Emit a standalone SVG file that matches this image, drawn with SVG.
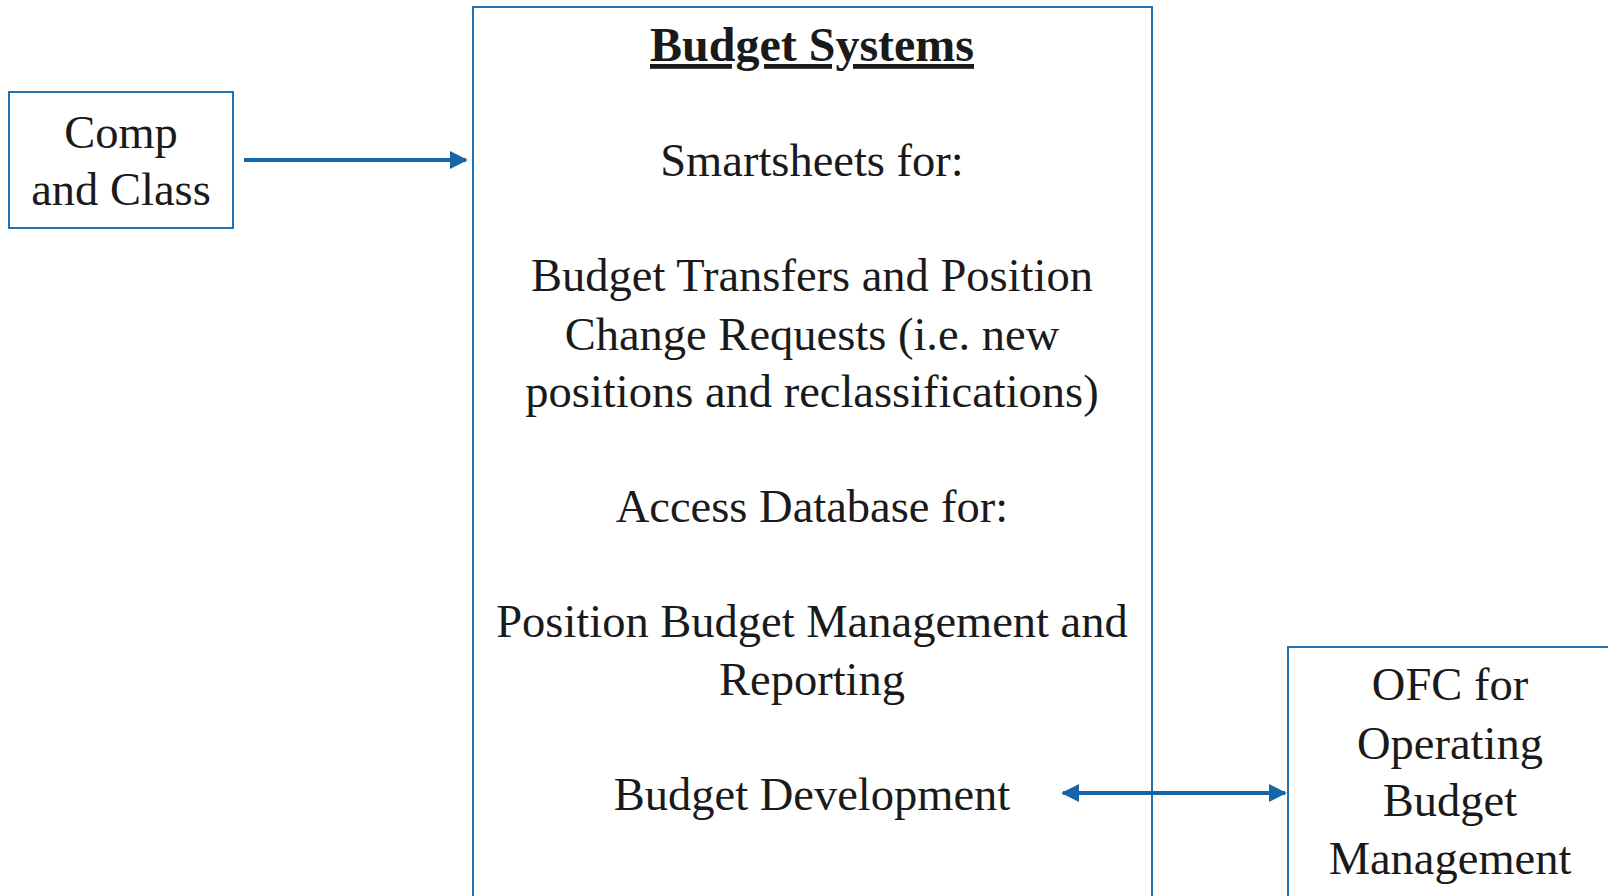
<svg xmlns="http://www.w3.org/2000/svg" width="1608" height="896" viewBox="0 0 1608 896">
  <style>
    .box { fill: #ffffff; stroke: #2271b3; stroke-width: 2; }
    .txt { font-family: "Liberation Serif", "DejaVu Serif", serif; font-size: 46.5px; fill: #1a1a1a; text-anchor: middle; }
    .title { font-weight: bold; text-decoration: underline; font-size: 48px; }
    .link { stroke: #1565a8; stroke-width: 4; fill: none; }
  </style>
  <defs>
    <!-- solid triangular head, 18px long at a 4px stroke -->
    <marker id="head" viewBox="0 0 10 10" refX="9" refY="5" markerWidth="4.5" markerHeight="4.5" orient="auto-start-reverse" markerUnits="strokeWidth">
      <path d="M0,0 L10,5 L0,10 z" fill="#1565a8"/>
    </marker>
  </defs>

  <g id="budget-systems">
    <rect class="box" x="473" y="7" width="679" height="900"/>
    <text class="txt title" x="812" y="61">Budget Systems</text>
    <text class="txt" x="812" y="176">Smartsheets for:</text>
    <text class="txt" x="812" y="291">Budget Transfers and Position</text>
    <text class="txt" x="812" y="350">Change Requests (i.e. new</text>
    <text class="txt" x="812" y="407">positions and reclassifications)</text>
    <text class="txt" x="812" y="522">Access Database for:</text>
    <text class="txt" x="812" y="637">Position Budget Management and</text>
    <text class="txt" x="812" y="695">Reporting</text>
    <text class="txt" x="812" y="810">Budget Development</text>
  </g>

  <g id="comp-and-class">
    <rect class="box" x="9" y="92" width="224" height="136"/>
    <text class="txt" x="121" y="148">Comp</text>
    <text class="txt" x="121" y="205">and Class</text>
  </g>

  <g id="ofc">
    <rect class="box" x="1288" y="647" width="340" height="260"/>
    <text class="txt" x="1450" y="700">OFC for</text>
    <text class="txt" x="1450" y="759">Operating</text>
    <text class="txt" x="1450" y="816">Budget</text>
    <text class="txt" x="1450" y="874">Management</text>
  </g>

  <g id="connectors">
    <line class="link" x1="244" y1="160" x2="466" y2="160" marker-end="url(#head)"/>
    <line class="link" x1="1063" y1="793" x2="1285" y2="793" marker-start="url(#head)" marker-end="url(#head)"/>
  </g>
</svg>
